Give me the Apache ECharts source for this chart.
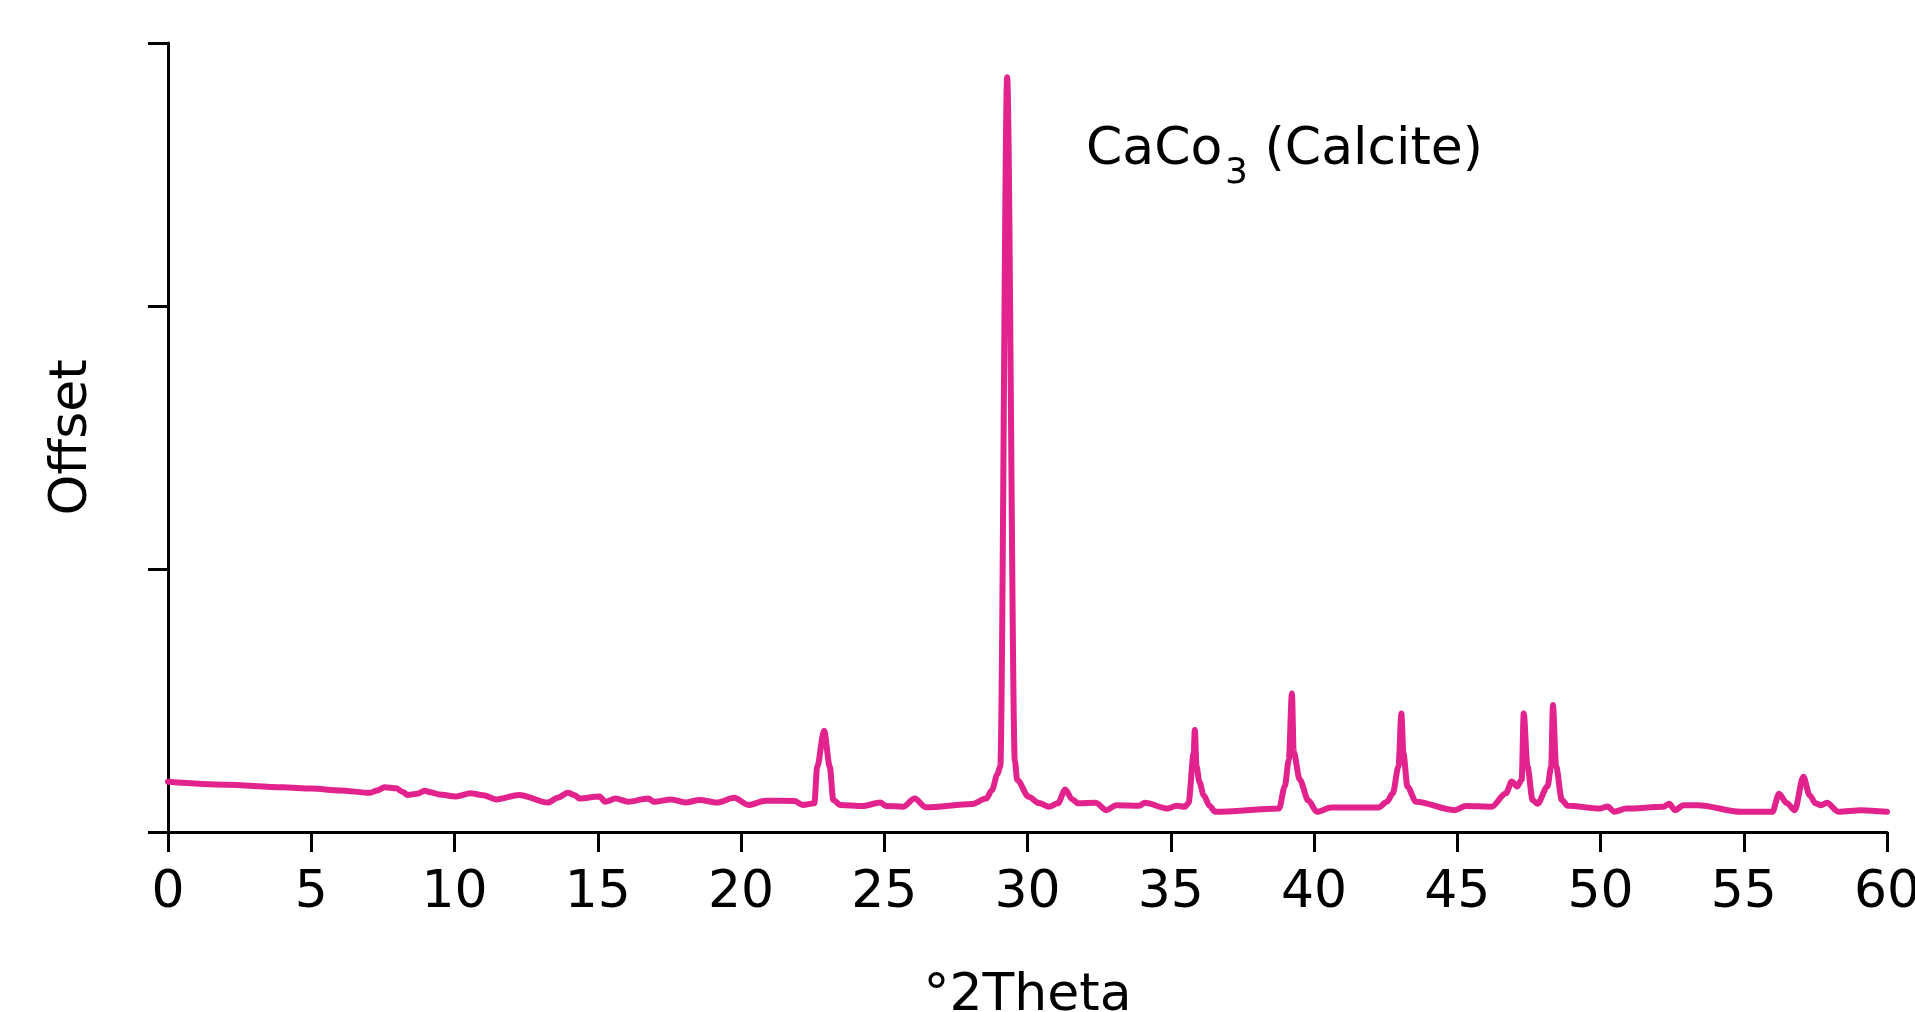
<!DOCTYPE html>
<html>
<head>
<meta charset="utf-8">
<script src="https://cdn.jsdelivr.net/npm/echarts@6/dist/echarts.min.js"></script>
<style>
html,body{margin:0;padding:0;background:#fff;}
#chart{width:1915px;height:1012px;}
</style>
</head>
<body>
<div id="chart"></div>
<script>
// X-ray diffraction pattern, CaCO3 (Calcite)
const theta = [
  0, 2, 4, 5, 6, 7.06, 7.3, 7.56, 7.96, 8.2, 8.36, 8.7, 8.96, 9.2, 9.46, 10.06, 10.56, 11.0, 11.46,
  12.26, 13.26, 13.6, 13.96, 14.2, 14.36, 15.06, 15.26, 15.62, 16.06, 16.76, 16.96, 17.56, 18.06,
  18.56, 19.16, 19.76, 20.26, 20.86, 21.86, 22.16, 22.56, 22.66, 22.9, 23.1, 23.22, 23.46, 24.26,
  24.86, 25.06, 25.66, 26.06, 26.46, 28.06, 28.56, 28.76, 28.95, 29.05, 29.29, 29.56, 29.64, 30.04,
  30.4, 30.75, 31.06, 31.32, 31.55, 31.77, 32.38, 32.75, 33.1, 33.9, 34.1, 34.9, 35.2, 35.5, 35.62,
  35.8, 35.84, 35.9, 36.0, 36.15, 36.35, 36.55, 38.78, 38.98, 39.12, 39.23, 39.29, 39.5, 39.8, 40.1,
  40.6, 42.25, 42.55, 42.75, 42.95, 43.05, 43.12, 43.26, 43.56, 44.9, 45.3, 46.2, 46.7, 46.9, 47.1,
  47.25, 47.32, 47.45, 47.63, 47.8, 48.15, 48.28, 48.34, 48.45, 48.65, 48.85, 49.97, 50.25, 50.48,
  50.9, 52.2, 52.4, 52.6, 52.9, 53.4, 54.9, 56.0, 56.23, 56.5, 56.78, 57.08, 57.3, 57.5, 57.7, 57.9,
  58.3, 59.1, 60
];
const intensity = [
  0.191, 0.180, 0.170, 0.165, 0.158, 0.149, 0.158, 0.170, 0.166, 0.152, 0.141, 0.145, 0.157, 0.150,
  0.143, 0.135, 0.147, 0.140, 0.124, 0.141, 0.112, 0.130, 0.149, 0.140, 0.127, 0.135, 0.115, 0.127,
  0.115, 0.127, 0.115, 0.124, 0.112, 0.122, 0.112, 0.130, 0.103, 0.119, 0.118, 0.103, 0.109, 0.248,
  0.385, 0.248, 0.122, 0.103, 0.099, 0.112, 0.099, 0.096, 0.127, 0.094, 0.106, 0.127, 0.159, 0.220,
  0.250, 2.870, 0.270, 0.198, 0.134, 0.110, 0.096, 0.109, 0.162, 0.125, 0.109, 0.111, 0.083, 0.102,
  0.100, 0.111, 0.089, 0.100, 0.096, 0.110, 0.300, 0.388, 0.250, 0.190, 0.140, 0.100, 0.077, 0.089,
  0.173, 0.274, 0.527, 0.305, 0.200, 0.120, 0.077, 0.093, 0.093, 0.115, 0.147, 0.250, 0.451, 0.300,
  0.173, 0.115, 0.083, 0.099, 0.096, 0.147, 0.192, 0.173, 0.200, 0.451, 0.250, 0.122, 0.107, 0.173,
  0.250, 0.483, 0.250, 0.122, 0.100, 0.089, 0.097, 0.077, 0.089, 0.096, 0.107, 0.083, 0.102, 0.102,
  0.077, 0.077, 0.145, 0.110, 0.083, 0.210, 0.140, 0.109, 0.102, 0.111, 0.077, 0.083, 0.077
];
const xTicks = [0, 5, 10, 15, 20, 25, 30, 35, 40, 45, 50, 55, 60];
const xName = '°2Theta';
const yName = 'Offset';
const annotation = ['CaCo', '3', ' (Calcite)'];

const FONT = "'DejaVu Sans', Verdana, sans-serif";
const chart = echarts.init(document.getElementById('chart'), null, {renderer: 'canvas'});
const lineData = theta.map((t, i) => [t, intensity[i]]);

chart.setOption({
  animation: false,
  backgroundColor: '#ffffff',
  grid: {left: 168, right: 28, top: 43, bottom: 180, containLabel: false, outerBoundsMode: 'none'},
  xAxis: {
    type: 'value', min: 0, max: 60, interval: 5,
    name: xName, nameLocation: 'middle', nameGap: 138,
    nameTextStyle: {fontFamily: FONT, fontSize: 52, color: '#000'},
    axisLine: {show: true, onZero: false, lineStyle: {color: '#000', width: 3}},
    axisTick: {show: true, inside: false, length: 20, lineStyle: {color: '#000', width: 3}},
    axisLabel: {show: true, margin: 35, fontFamily: FONT, fontSize: 52, color: '#000',
      formatter: v => xTicks.includes(v) ? String(v) : ''},
    splitLine: {show: false}
  },
  yAxis: {
    type: 'value', min: 0, max: 3, interval: 1,
    name: yName, nameLocation: 'middle', nameGap: 70, nameRotate: 90,
    nameTextStyle: {fontFamily: FONT, fontSize: 52, color: '#000'},
    axisLine: {show: true, lineStyle: {color: '#000', width: 3}},
    axisTick: {show: true, inside: false, length: 20, lineStyle: {color: '#000', width: 3}},
    axisLabel: {show: false},
    splitLine: {show: false}
  },
  series: [{
    type: 'line', data: lineData, showSymbol: false, smooth: 0.3, smoothMonotone: 'x',
    lineStyle: {color: '#e2238e', width: 6, join: 'round', cap: 'round'},
    z: 3
  }],
  graphic: [
    {type: 'text', left: 1086, top: 124, style: {text: annotation[0], font: "52px 'DejaVu Sans'", fill: '#000'}},
    {type: 'text', left: 1225, top: 156, style: {text: annotation[1], font: "36px 'DejaVu Sans'", fill: '#000'}},
    {type: 'text', left: 1248, top: 124, style: {text: annotation[2], font: "52px 'DejaVu Sans'", fill: '#000'}}
  ]
});
</script>
</body>
</html>
